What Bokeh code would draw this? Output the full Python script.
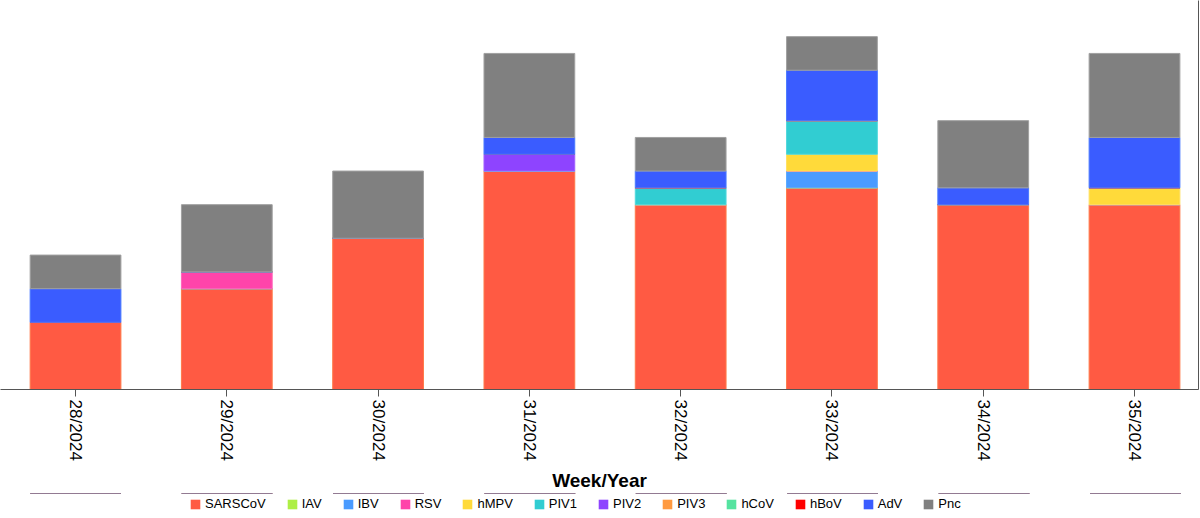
import math
from bokeh.plotting import figure
from bokeh.layouts import column
from bokeh.models import Range1d, FixedTicker, LinearAxis, Legend
from bokeh.embed import file_html
from bokeh.resources import INLINE

# Weekly detections by pathogen
weeks = ["28/2024", "29/2024", "30/2024", "31/2024", "32/2024", "33/2024", "34/2024", "35/2024"]
pathogens = ["SARSCoV", "IAV", "IBV", "RSV", "hMPV", "PIV1", "PIV2", "PIV3", "hCoV", "hBoV", "AdV", "Pnc"]

SARSCoV = [4, 6, 9, 13, 11, 12, 11, 11]
IAV     = [0, 0, 0, 0, 0, 0, 0, 0]
IBV     = [0, 0, 0, 0, 0, 1, 0, 0]
RSV     = [0, 1, 0, 0, 0, 0, 0, 0]
hMPV    = [0, 0, 0, 0, 0, 1, 0, 1]
PIV1    = [0, 0, 0, 0, 1, 2, 0, 0]
PIV2    = [0, 0, 0, 1, 0, 0, 0, 0]
PIV3    = [0, 0, 0, 0, 0, 0, 0, 0]
hCoV    = [0, 0, 0, 0, 0, 0, 0, 0]
hBoV    = [0, 0, 0, 0, 0, 0, 0, 0]
AdV     = [2, 0, 0, 1, 1, 3, 1, 3]
Pnc     = [2, 4, 4, 5, 2, 2, 4, 5]

colors = ["#FF5A43", "#AEEF45", "#4A9BFF", "#FF44AA", "#FFDA3A", "#31CDD2",
          "#8E44FF", "#FF9A40", "#55E3A0", "#FF0000", "#3A5CFF", "#808080"]
edge_colors = ["#FF7A4A", "#C0F060", "#5AAAFF", "#FF66BB", "#FFE060", "#50D8DC",
               "#A060FF", "#FFAA60", "#70E8B0", "#FF3030", "#4A7AFF", "#A0A0A0"]

series = [SARSCoV, IAV, IBV, RSV, hMPV, PIV1, PIV2, PIV3, hCoV, hBoV, AdV, Pnc]
data = {"x": [i + 0.5 for i in range(len(weeks))]}
for name, vals in zip(pathogens, series):
    data[name] = vals

FONT = "Liberation Sans"

chart = figure(frame_width=1198, frame_height=389, output_backend="svg", toolbar_location=None,
               x_range=Range1d(0.004, 7.923), y_range=Range1d(0, 23.15),
               min_border_left=0, min_border_right=1, min_border_top=0,
               min_border_bottom=0)

chart.vbar_stack(pathogens, x="x", width=0.6, source=data,
                 fill_color=colors, line_color=edge_colors, line_width=1)

chart.xgrid.visible = False
chart.ygrid.visible = False
chart.yaxis.visible = False
chart.outline_line_color = None
chart.background_fill_color = "white"
chart.border_fill_color = "white"

xa = chart.xaxis[0]
xa.ticker = FixedTicker(ticks=data["x"])
xa.major_label_overrides = {i + 0.5: w for i, w in enumerate(weeks)}
xa.major_label_orientation = -math.pi / 2
xa.major_label_text_font = FONT
xa.major_label_text_font_size = "17px"
xa.major_label_text_color = "black"
xa.major_label_standoff = 3
xa.major_tick_in = 0
xa.major_tick_out = 7
xa.minor_tick_in = 0
xa.minor_tick_out = 0
xa.axis_line_color = "#555555"
xa.major_tick_line_color = "#555555"
xa.axis_label = "Week/Year"
xa.axis_label_text_font = FONT
xa.axis_label_text_font_size = "19px"
xa.axis_label_text_font_style = "bold"
xa.axis_label_text_color = "black"
xa.axis_label_standoff = 6

# thin border line on the right edge of the frame
ra = LinearAxis(ticker=FixedTicker(ticks=[]), major_label_text_font_size="0px",
                major_tick_out=0, major_tick_in=0, minor_tick_out=0, minor_tick_in=0,
                axis_line_color="#555555")
chart.add_layout(ra, "right")

# legend strip: the same stack, drawn outside the strip's visible y range,
# supplies the legend swatches
strip = figure(width=1200, height=24, output_backend="svg", toolbar_location=None,
               x_range=Range1d(0.004, 7.923), y_range=Range1d(-100, -99),
               min_border_left=0, min_border_right=0, min_border_top=0,
               min_border_bottom=0)
strip.axis.visible = False
strip.grid.visible = False
strip.outline_line_color = None
strip.background_fill_color = "white"
strip.border_fill_color = "white"
swatches = strip.vbar_stack(pathogens, x="x", width=0.6, source=data,
                            fill_color=colors, line_color=None)

legend = Legend(items=[(name, [r]) for name, r in zip(pathogens, swatches)],
                orientation="horizontal", location=(189, 6),
                label_text_font=FONT, label_text_font_size="13px",
                label_text_color="black", glyph_width=12, glyph_height=12,
                label_height=14, label_standoff=4, spacing=20, padding=0, margin=0,
                border_line_color=None, background_fill_alpha=0)
strip.add_layout(legend, "center")

p = column(chart, strip, spacing=0)

open("out.html", "w").write(file_html(p, INLINE))
